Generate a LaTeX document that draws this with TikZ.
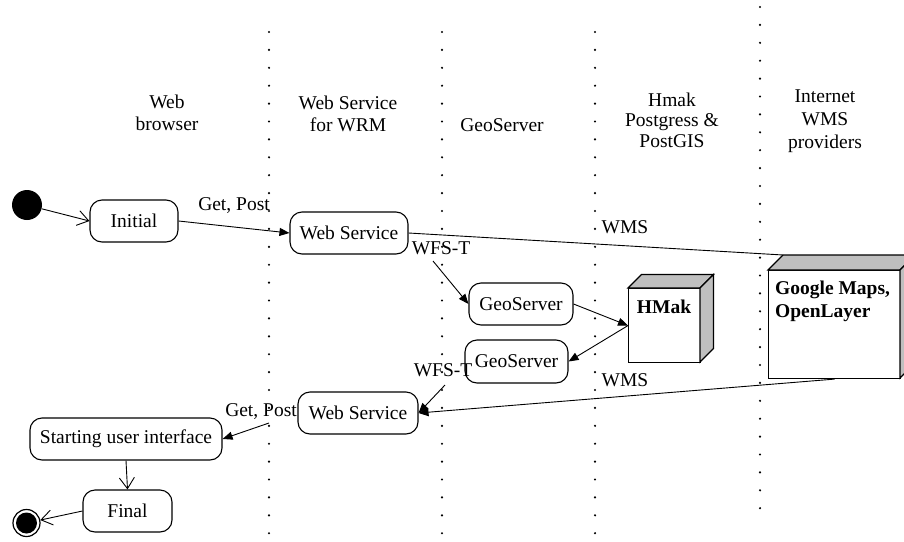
\documentclass[tikz,border=0pt]{standalone}
\usepackage{fontspec}
\setmainfont{Liberation Serif}
\usetikzlibrary{arrows.meta}
\begin{document}
\begin{tikzpicture}[x=1pt,y=-1pt,
  every node/.style={font=\fontsize{19.5}{22}\selectfont, inner sep=0pt},
  state/.style={draw, rounded corners=12pt, line width=1.1pt, minimum height=42pt},
  lane/.style={line width=2.4pt, line cap=round, dash pattern=on 0pt off 17.9pt},
  conn/.style={line width=0.9pt},
  fa/.style={conn, -{Triangle[length=10pt,width=8pt]}},
  oa/.style={conn, -{Straight Barb[length=11pt,width=15pt]}},
  cubeface/.style={draw, line width=1.1pt, fill=black!25},
  cubefront/.style={draw, line width=1.1pt, fill=white, anchor=north west},
  lbl/.style={align=center},
]
\useasboundingbox (0,0) rectangle (904,541);
\clip (0,0) rectangle (904,541);

% swimlane separators
\draw[lane] (269,32) -- (269,545);
\draw[lane] (442,32) -- (442,545);
\draw[lane] (595,32) -- (595,545);
\draw[lane] (760,7) -- (760,518);

% lane headings
\node[lbl] (h1) at (167,113) {Web\\browser};
\node[lbl] (h2) at (348,114) {Web Service\\for WRM};
\node[lbl] (h3) at (502,125) {GeoServer};
\node[lbl, font=\fontsize{19.5}{20.5}\selectfont] (h4) at (672,120) {Hmak\\Postgress \&\\PostGIS};
\node[lbl, font=\fontsize{19.5}{23}\selectfont] (h5) at (825,121) {Internet\\WMS\\providers};

% states
\node[circle, fill=black, minimum size=30pt] (init) at (27,205) {};
\node[state, minimum width=88pt] (initial) at (134,221) {Initial};
\node[state, minimum width=118pt] (ws1) at (349,233) {Web Service};
\node[state, minimum width=104pt] (gs1) at (521,304) {GeoServer};
\node[state, minimum width=103pt, minimum height=43pt] (gs2) at (516.5,361.5) {GeoServer};
\node[state, minimum width=120pt] (ws2) at (358,413) {Web Service};
\node[state, minimum width=192pt] (ui) at (126,439) {Starting user interface};
\node[state, minimum width=89pt] (final) at (127.5,511) {Final};
\node[circle, draw, line width=1.2pt, minimum size=27pt] (end) at (26.5,523) {};
\fill (end.center) circle[radius=10.5pt];

% HMak cube
\node[cubefront, minimum width=72pt, minimum height=74pt] (hmak) at (628,288) {};
\filldraw[cubeface] (628,288) -- (641.5,274.5) -- (713.5,274.5) -- (700,288) -- cycle;
\filldraw[cubeface] (700,288) -- (713.5,274.5) -- (713.5,348.5) -- (700,362) -- cycle;
\node[anchor=north, font=\fontsize{19.5}{22}\selectfont\bfseries] (hmaklbl) at (664,300) {HMak};

% Google Maps cube
\node[cubefront, minimum width=132pt, minimum height=108pt] (gmaps) at (768,270) {};
\filldraw[cubeface] (768,270) -- (783,255) -- (915,255) -- (900,270) -- cycle;
\filldraw[cubeface] (900,270) -- (915,255) -- (915,363) -- (900,378) -- cycle;
\node[anchor=north west, align=left, font=\fontsize{19.5}{23}\selectfont\bfseries] (gmapslbl) at (775,281) {Google Maps,\\OpenLayer};
\coordinate (gtop) at (783,255);

% edge labels
\node (gp1) at (234,206) {Get, Post};
\node (wms1) at (625,227) {WMS};
\node (wfs1) at (441,248) {WFS-T};
\node (wfs2) at (443,370) {WFS-T};
\node (wms2) at (625,380) {WMS};
\node (gp2) at (261,412) {Get, Post};

\coordinate (wfs1s) at (433,261);
\coordinate (wfs2s) at (445,385);
\coordinate (gp2s) at (269,423);

% connectors
\draw[oa] (init) -- (initial.west);
\draw[fa] (initial.east) -- (ws1.west);
\draw[conn] (ws1.east) -- (gtop);
\draw[fa] (wfs1s) -- (gs1.west);
\draw[fa] (gs1.east) -- (hmak.west);
\draw[fa] (hmak.west) -- (gs2.east);
\draw[fa] (gmaps.south) -- (ws2.east);
\draw[fa] (wfs2s) -- (ws2.east);
\draw[fa] (gp2s) -- (ui.east);
\draw[oa] (ui.south) -- (final.north);
\draw[oa] (final.west) -- (end);
\end{tikzpicture}
\end{document}
